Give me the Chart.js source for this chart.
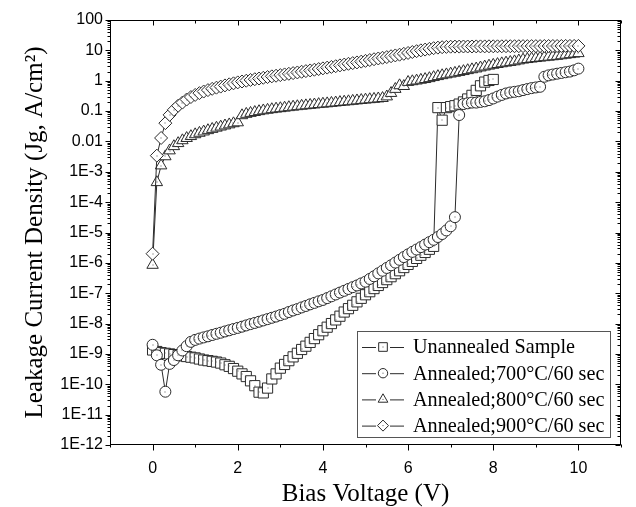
<!DOCTYPE html>
<html>
<head>
<meta charset="utf-8">
<script src="https://cdn.jsdelivr.net/npm/chart.js@4.4.1/dist/chart.umd.min.js"></script>
<style>
  html, body { margin: 0; padding: 0; background: #fff; }
  #wrap { width: 636px; height: 507px; }
</style>
</head>
<body>
<div id="wrap"><canvas id="c" width="636" height="507"></canvas></div>
<script>
// ---- data ----
const biasV = [0,0.1,0.2,0.3,0.4,0.5,0.6,0.7,0.8,0.9,1,1.1,1.2,1.3,1.4,1.5,1.6,1.7,1.8,1.9,2,2.1,2.2,2.3,2.4,2.5,2.6,2.7,2.8,2.9,3,3.1,3.2,3.3,3.4,3.5,3.6,3.7,3.8,3.9,4,4.1,4.2,4.3,4.4,4.5,4.6,4.7,4.8,4.9,5,5.1,5.2,5.3,5.4,5.5,5.6,5.7,5.8,5.9,6,6.1,6.2,6.3,6.4,6.5,6.6,6.7,6.8,6.9,7,7.1,7.2,7.3,7.4,7.5,7.6,7.7,7.8,7.9,8,8.1,8.2,8.3,8.4,8.5,8.6,8.7,8.8,8.9,9,9.1,9.2,9.3,9.4,9.5,9.6,9.7,9.8,9.9,10];

// Unannealed sample (0 .. 8 V)
const unannealed = [1.35e-9,1.2e-9,1.1e-9,1.05e-9,1.0e-9,9.5e-10,9.0e-10,8.6e-10,8.2e-10,7.8e-10,
  7.4e-10,6.8e-10,6.3e-10,6.0e-10,5.7e-10,5.4e-10,5.0e-10,4.4e-10,3.9e-10,3.3e-10,
  2.7e-10,2.2e-10,1.8e-10,1.3e-10,9.0e-11,5.5e-11,5.2e-11,7.5e-11,1.5e-10,2.2e-10,
  3.4e-10,4.5e-10,6.0e-10,8.0e-10,1.05e-9,1.4e-9,1.8e-9,2.4e-9,3.2e-9,4.3e-9,
  5.8e-9,7.6e-9,1.0e-8,1.32e-8,1.75e-8,2.4e-8,3.1e-8,4.0e-8,5.2e-8,6.8e-8,
  8.9e-8,1.12e-7,1.42e-7,1.8e-7,2.25e-7,2.8e-7,3.5e-7,4.4e-7,5.5e-7,7.0e-7,
  8.9e-7,1.12e-6,1.4e-6,1.78e-6,2.2e-6,2.8e-6,3.5e-6,
  0.13,0.05,0.13,0.14,0.15,0.17,0.2,0.25,0.33,0.48,0.68,0.9,1.02,1.1];

// Annealed 700 C / 60 s (0 .. 10 V)
const annealed700 = [2.0e-9,9.0e-10,4.4e-10,5.7e-11,4.7e-10,6.3e-10,9.0e-10,1.3e-9,1.8e-9,2.5e-9,
  2.9e-9,3.2e-9,3.5e-9,3.8e-9,4.2e-9,4.6e-9,5.0e-9,5.5e-9,6.0e-9,6.6e-9,
  7.2e-9,7.9e-9,8.7e-9,9.6e-9,1.05e-8,1.15e-8,1.27e-8,1.4e-8,1.55e-8,1.7e-8,
  1.9e-8,2.1e-8,2.4e-8,2.7e-8,3.0e-8,3.4e-8,3.8e-8,4.3e-8,4.8e-8,5.4e-8,
  6.0e-8,6.9e-8,7.9e-8,9.1e-8,1.05e-7,1.2e-7,1.38e-7,1.58e-7,1.8e-7,2.1e-7,
  2.4e-7,2.95e-7,3.6e-7,4.5e-7,5.5e-7,6.8e-7,8.3e-7,1.02e-6,1.26e-6,1.55e-6,
  1.9e-6,2.3e-6,2.75e-6,3.3e-6,4.0e-6,4.8e-6,5.75e-6,7.1e-6,8.9e-6,1.17e-5,
  1.6e-5,3.2e-5,0.074,0.17,0.18,0.19,0.19,0.2,0.21,0.23,
  0.26,0.3,0.34,0.38,0.41,0.43,0.45,0.49,0.53,0.57,
  0.6,0.63,1.35,1.5,1.6,1.7,1.8,1.9,2.0,2.2,2.5];

// Annealed 800 C / 60 s
const annealed800 = [8.5e-7,4.5e-4,1.6e-3,3.2e-3,5.0e-3,6.9e-3,8.7e-3,0.0108,0.0128,0.0148,
  0.017,0.019,0.021,0.0232,0.0255,0.028,0.0305,0.0332,0.036,0.0392,
  0.042,0.072,0.08,0.086,0.092,0.098,0.104,0.109,0.114,0.119,
  0.123,0.128,0.133,0.138,0.143,0.148,0.153,0.158,0.163,0.168,
  0.173,0.178,0.184,0.19,0.196,0.202,0.208,0.215,0.222,0.229,
  0.236,0.243,0.25,0.258,0.266,0.3,0.39,0.53,0.7,0.66,
  0.9,0.95,1.0,1.06,1.12,1.2,1.3,1.4,1.5,1.6,
  1.7,1.8,1.92,2.05,2.2,2.35,2.5,2.7,2.9,3.1,
  3.3,3.5,3.7,3.9,4.1,4.3,4.6,4.9,5.1,5.3,
  5.5,5.7,5.9,6.1,6.3,6.5,6.8,7.1,7.4,7.7,8.0];

// Annealed 900 C / 60 s
const annealed900 = [2.0e-6,3.4e-3,0.013,0.04,0.075,0.11,0.15,0.19,0.24,0.29,
  0.34,0.39,0.44,0.49,0.54,0.59,0.64,0.7,0.76,0.82,
  0.88,0.94,1.0,1.06,1.12,1.18,1.25,1.32,1.39,1.46,
  1.53,1.61,1.69,1.78,1.87,1.97,2.07,2.18,2.3,2.42,
  2.55,2.7,2.85,3.0,3.2,3.4,3.6,3.8,4.0,4.25,
  4.5,4.8,5.1,5.4,5.7,6.0,6.4,6.8,7.2,7.7,
  8.2,8.8,9.4,10.0,10.6,11.2,11.8,12.3,12.7,13.0,
  13.2,13.3,13.3,13.4,13.4,13.4,13.5,13.5,13.5,13.6,
  13.6,13.6,13.6,13.7,13.7,13.7,13.7,13.8,13.8,13.8,
  13.8,13.8,13.9,13.9,13.9,13.9,13.9,14.0,14.0,14.0,14.0];

const seriesNames = ["Unannealed Sample", "Annealed;700\u00B0C/60 sec", "Annealed;800\u00B0C/60 sec", "Annealed;900\u00B0C/60 sec"];
const seriesMarkers = ["rect", "circle", "triangle", "rectRot"];
const yTickValues = [1e-12,1e-11,1e-10,1e-9,1e-8,1e-7,1e-6,1e-5,1e-4,1e-3,1e-2,1e-1,1,10,100];
const yTickLabels = ["1E-12","1E-11","1E-10","1E-9","1E-8","1E-7","1E-6","1E-5","1E-4","1E-3","0.01","0.1","1","10","100"];
const xTickValues = [0,2,4,6,8,10];
const xTitle = "Bias Voltage (V)";
const yTitle = "Leakage Current Density (Jg, A/cm\u00B2)";

// ---- styling ----
const markerRadius = { rect: 7.2, circle: 5.5, triangle: 6.6, rectRot: 6.5 };
const lineColor = '#2a2a2a';
const markColor = '#2a2a2a';
const serif = '"Liberation Serif", "Times New Roman", serif';
const sans = '"Liberation Sans", Arial, sans-serif';

function toPoints(vals) { return vals.map((v, i) => ({ x: biasV[i], y: v })); }
const allSeries = [unannealed, annealed700, annealed800, annealed900];

const datasets = allSeries.map((vals, i) => ({
  label: seriesNames[i],
  data: toPoints(vals),
  showLine: true,
  borderColor: lineColor,
  borderWidth: 1,
  pointStyle: seriesMarkers[i],
  pointRadius: markerRadius[seriesMarkers[i]],
  pointBorderColor: markColor,
  pointBackgroundColor: '#ffffff',
  pointBorderWidth: 1,
  order: 4 - i,
  clip: false
}));

// center dots inside markers
const centerDots = {
  id: 'centerDots',
  afterDatasetDraw(chart, args) {
    const ctx = chart.ctx;
    ctx.save();
    ctx.fillStyle = '#555';
    args.meta.data.forEach(el => { ctx.fillRect(Math.round(el.x) - 0.5, Math.round(el.y) - 0.5, 1, 1); });
    ctx.restore();
  }
};

// frame and tick marks (Origin style)
const frameTicks = {
  id: 'frameTicks',
  afterDraw(chart) {
    const { ctx, chartArea: a, scales: { x, y } } = chart;
    ctx.save();
    ctx.strokeStyle = '#000';
    ctx.lineWidth = 1;
    const L = Math.round(a.left) + 0.5, R = Math.round(a.right) - 0.5;
    const T = Math.round(a.top) + 0.5, B = Math.round(a.bottom) - 0.5;
    ctx.strokeRect(L, T, R - L, B - T);
    ctx.beginPath();
    for (let v = -1; v <= 11; v++) {
      const px = Math.round(x.getPixelForValue(v)) + 0.5;
      const major = v % 2 === 0;
      const lb = major ? 6 : 3, lt = major ? 5 : 3;
      ctx.moveTo(px, B); ctx.lineTo(px, B + lb);
      ctx.moveTo(px, T); ctx.lineTo(px, T + lt);
    }
    for (let e = -12; e <= 2; e++) {
      for (let m = 1; m <= 9; m++) {
        const v = m * Math.pow(10, e);
        if (v > 100) break;
        const py = Math.round(y.getPixelForValue(v)) + 0.5;
        const len = m === 1 ? 5 : 3;
        ctx.moveTo(L, py); ctx.lineTo(L - len, py);
        ctx.moveTo(R, py); ctx.lineTo(R - len, py);
      }
    }
    ctx.stroke();
    ctx.restore();
  }
};

// boxed legend (Origin style)
const boxLegend = {
  id: 'boxLegend',
  afterDraw(chart) {
    const { ctx, chartArea: a } = chart;
    const bx = a.left + 247, by = a.top + 311, bw = 253, bh = 106;
    ctx.save();
    ctx.fillStyle = '#fff';
    ctx.fillRect(bx, by, bw, bh);
    ctx.strokeStyle = '#555';
    ctx.lineWidth = 1;
    ctx.strokeRect(bx + 0.5, by + 0.5, bw, bh);
    ctx.font = '20.2px ' + serif;
    ctx.textBaseline = 'middle';
    ctx.textAlign = 'left';
    chart.data.datasets.forEach((ds, i) => {
      const cy = by + 16 + i * 26.2;
      const mx = bx + 26;
      ctx.strokeStyle = lineColor;
      ctx.lineWidth = 1;
      ctx.beginPath();
      ctx.moveTo(bx + 5, cy + 0.5); ctx.lineTo(bx + 19, cy + 0.5);
      ctx.moveTo(bx + 33, cy + 0.5); ctx.lineTo(bx + 47, cy + 0.5);
      ctx.stroke();
      ctx.fillStyle = '#fff';
      ctx.strokeStyle = markColor;
      Chart.helpers.drawPoint(ctx, { pointStyle: ds.pointStyle, radius: ds.pointRadius * 0.85, rotation: 0, borderWidth: 1 }, mx, cy);
      ctx.fillStyle = '#555';
      ctx.fillRect(mx - 0.5, cy - 0.5, 1, 1);
      ctx.fillStyle = '#000';
      ctx.fillText(ds.label, bx + 56, cy + 1);
    });
    ctx.restore();
  }
};

new Chart(document.getElementById('c'), {
  type: 'scatter',
  data: { datasets },
  options: {
    responsive: false,
    animation: false,
    devicePixelRatio: 1,
    layout: { padding: { left: 0, right: 15, top: 20, bottom: 0 } },
    plugins: { legend: { display: false }, tooltip: { enabled: false } },
    scales: {
      x: {
        type: 'linear', min: -1, max: 11,
        grid: { display: false, drawTicks: false },
        border: { display: false },
        afterBuildTicks: s => { s.ticks = xTickValues.map(v => ({ value: v })); },
        afterFit: s => { s.height = 62; },
        ticks: {
          padding: 14, color: '#000',
          font: { family: sans, size: 16 },
          callback: v => String(v)
        },
        title: {
          display: true, text: xTitle, color: '#000',
          font: { family: serif, size: 25, lineHeight: 1.0 },
          padding: { top: 0, bottom: 0 }
        }
      },
      y: {
        type: 'logarithmic', min: 1e-12, max: 100,
        grid: { display: false, drawTicks: false },
        border: { display: false },
        afterBuildTicks: s => { s.ticks = yTickValues.map(v => ({ value: v })); },
        afterFit: s => { s.width = 110; },
        ticks: {
          padding: 7, color: '#000',
          font: { family: sans, size: 16 },
          callback: (v) => { const k = yTickValues.findIndex(t => Math.abs(Math.log10(t) - Math.log10(v)) < 1e-6); return k >= 0 ? yTickLabels[k] : ''; }
        },
        title: {
          display: true, text: yTitle, color: '#000',
          font: { family: serif, size: 25 },
          padding: { top: 20, bottom: 0 }
        }
      }
    }
  },
  plugins: [centerDots, frameTicks, boxLegend]
});
</script>
</body>
</html>
